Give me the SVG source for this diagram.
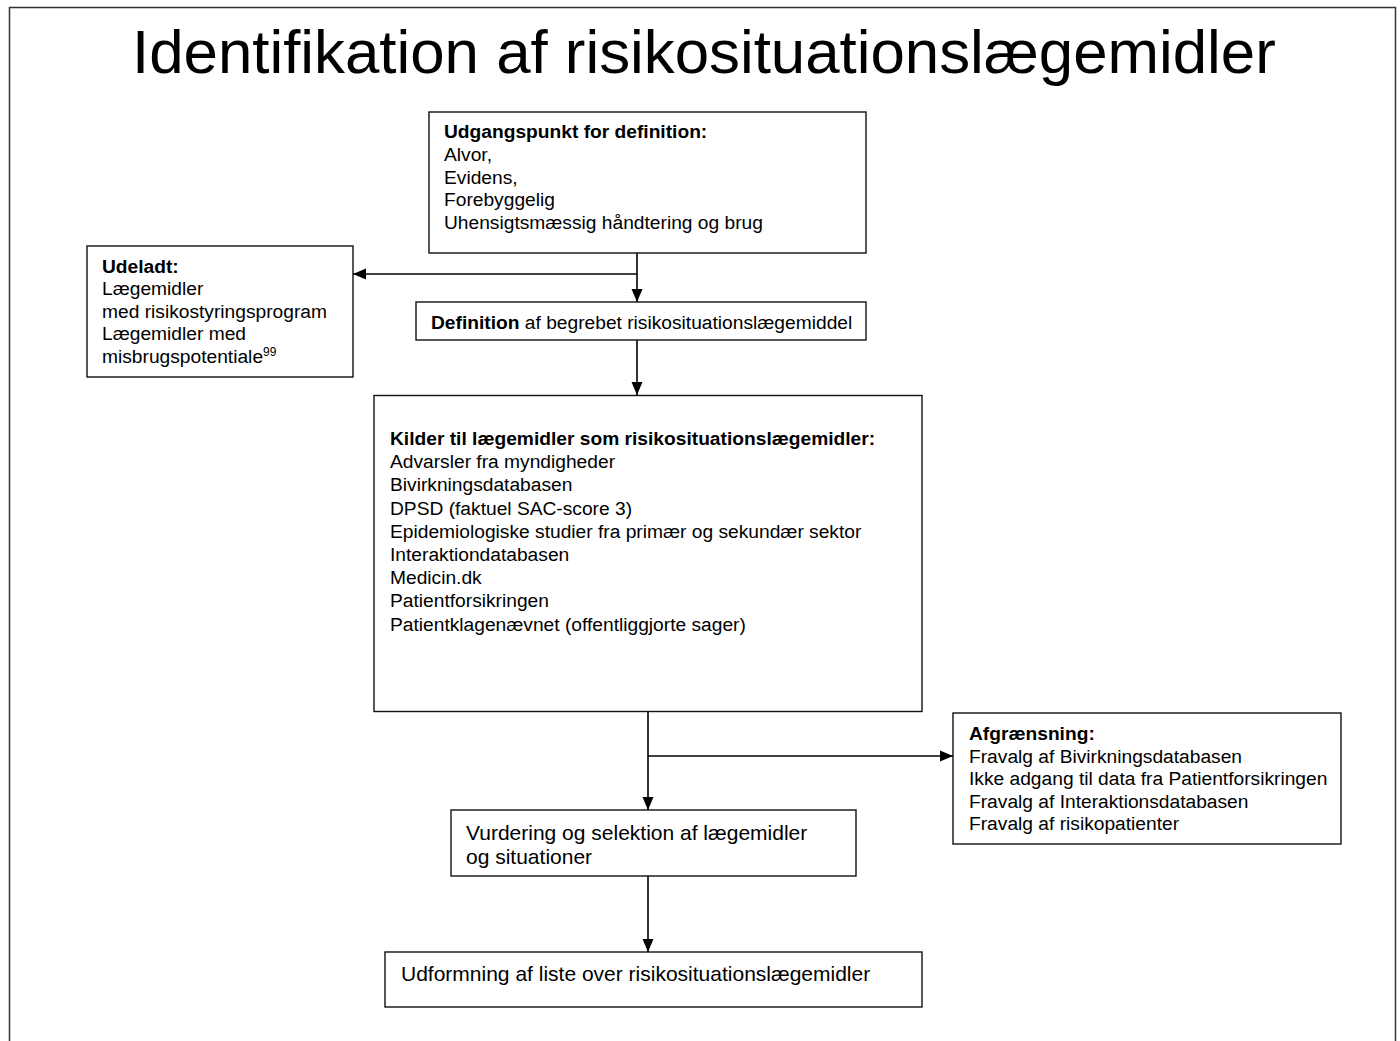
<svg xmlns="http://www.w3.org/2000/svg" width="1400" height="1041" viewBox="0 0 1400 1041">
<style>
.box{fill:#fff;stroke:#111;stroke-width:1.4}
.t{font-family:"Liberation Sans",Arial,sans-serif;font-size:19.2px;fill:#000}
.t21{font-family:"Liberation Sans",Arial,sans-serif;font-size:21px;fill:#000}
.b{font-weight:bold}
.con{fill:none;stroke:#000;stroke-width:1.6;marker-end:url(#ah)}
</style>
<defs>
<marker id="ah" markerUnits="userSpaceOnUse" markerWidth="13" markerHeight="13" viewBox="0 0 13 13" refX="13" refY="6.5" orient="auto">
<path d="M0,1 L13,6.5 L0,12 Z" fill="#000"/>
</marker>
</defs>
<rect width="1400" height="1041" fill="#fff"/>
<path d="M9.5,1041 V7.5 H1395.5 V1041" fill="none" stroke="#333" stroke-width="1.5"/>
<text x="132" y="73" font-family="Liberation Sans,Arial,sans-serif" font-size="61.8" fill="#000">Identifikation af risikosituationslægemidler</text>

<g id="connectors">
<path class="con" d="M637,253 V302"/>
<path class="con" d="M637,274 H353"/>
<path class="con" d="M637,340 V395"/>
<path class="con" d="M648,711 V810"/>
<path class="con" d="M648,756 H953"/>
<path class="con" d="M648,876 V952"/>
</g>

<g id="udgangspunkt">
<rect class="box" x="429" y="112" width="437" height="141"/>
<text class="t b" x="444" y="138">Udgangspunkt for definition:</text>
<text class="t" x="444" y="161">Alvor,</text>
<text class="t" x="444" y="183.5">Evidens,</text>
<text class="t" x="444" y="206">Forebyggelig</text>
<text class="t" x="444" y="228.5">Uhensigtsmæssig håndtering og brug</text>
</g>

<g id="udeladt">
<rect class="box" x="87" y="246" width="266" height="131"/>
<text class="t b" x="102" y="272.5">Udeladt:</text>
<text class="t" x="102" y="295">Lægemidler</text>
<text class="t" x="102" y="317.5">med risikostyringsprogram</text>
<text class="t" x="102" y="340">Lægemidler med</text>
<text class="t" x="102" y="362.5">misbrugspotentiale<tspan font-size="12" dy="-7">99</tspan></text>
</g>

<g id="definition">
<rect class="box" x="416" y="302" width="450" height="38"/>
<text class="t" x="431" y="328.5"><tspan class="b">Definition</tspan> af begrebet risikosituationslægemiddel</text>
</g>

<g id="kilder">
<rect class="box" x="374" y="395.5" width="548" height="316"/>
<text class="t b" x="390" y="445">Kilder til lægemidler som risikosituationslægemidler:</text>
<text class="t" x="390" y="468.2">Advarsler fra myndigheder</text>
<text class="t" x="390" y="491.4">Bivirkningsdatabasen</text>
<text class="t" x="390" y="514.6">DPSD (faktuel SAC-score 3)</text>
<text class="t" x="390" y="537.8">Epidemiologiske studier fra primær og sekundær sektor</text>
<text class="t" x="390" y="561">Interaktiondatabasen</text>
<text class="t" x="390" y="584.2">Medicin.dk</text>
<text class="t" x="390" y="607.4">Patientforsikringen</text>
<text class="t" x="390" y="630.6">Patientklagenævnet (offentliggjorte sager)</text>
</g>

<g id="afgraensning">
<rect class="box" x="953" y="713" width="388" height="131"/>
<text class="t b" x="969" y="740">Afgrænsning:</text>
<text class="t" x="969" y="762.6">Fravalg af Bivirkningsdatabasen</text>
<text class="t" x="969" y="785.2">Ikke adgang til data fra Patientforsikringen</text>
<text class="t" x="969" y="807.8">Fravalg af Interaktionsdatabasen</text>
<text class="t" x="969" y="830.4">Fravalg af risikopatienter</text>
</g>

<g id="vurdering">
<rect class="box" x="451" y="810" width="405" height="66"/>
<text class="t21" x="466" y="839.5">Vurdering og selektion af lægemidler</text>
<text class="t21" x="466" y="863.5">og situationer</text>
</g>

<g id="udformning">
<rect class="box" x="385" y="952" width="537" height="55"/>
<text class="t21" x="401" y="981">Udformning af liste over risikosituationslægemidler</text>
</g>
</svg>
